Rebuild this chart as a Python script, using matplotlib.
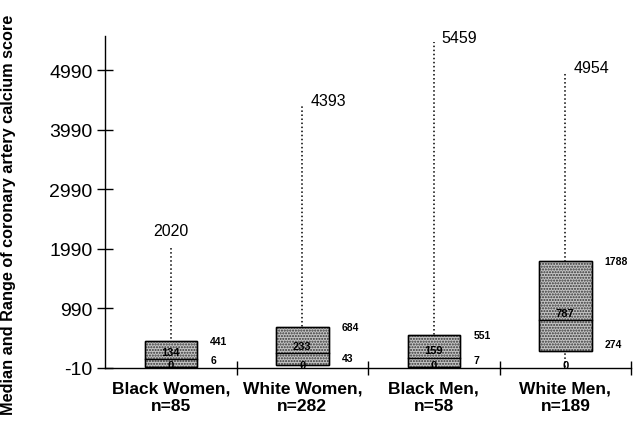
import matplotlib
matplotlib.use("Agg")
import matplotlib.pyplot as plt

plt.rcParams['font.family'] = ['Liberation Sans', 'DejaVu Sans']

groups = ['Black Women,\nn=85', 'White Women,\nn=282', 'Black Men,\nn=58', 'White Men,\nn=189']
mins = [0, 0, 0, 0]
q1 = [6, 43, 7, 274]
medians = [134, 233, 159, 787]
q3 = [441, 684, 551, 1788]
maxs = [2020, 4393, 5459, 4954]
yticks = [-10, 990, 1990, 2990, 3990, 4990]

fig = plt.figure(figsize=(6.33, 4.31), dpi=100)
ax = fig.add_axes([0.166, 0.144, 0.831, 0.77])

w = 0.4
for i in range(len(groups)):
    # whisker from min to max
    ax.plot([i, i], [mins[i], maxs[i]], color='k', linestyle=':', lw=1.1, zorder=1)
    # stippled box
    ax.bar(i, q3[i] - q1[i], bottom=q1[i], width=w, facecolor='#c4c4c4',
           edgecolor='#333333', hatch='......', lw=1.0, zorder=2)
    ax.bar(i, q3[i] - q1[i], bottom=q1[i], width=w, facecolor='none',
           edgecolor='k', lw=1.0, zorder=3)
    ax.plot([i - w / 2, i + w / 2], [medians[i], medians[i]], color='k', lw=1.0, zorder=3)
    ax.text(i, medians[i] + 40, str(medians[i]), ha='center', va='bottom',
            fontsize=8, fontweight='bold', zorder=4)
    ax.text(i + w / 2 + 0.1, q3[i], str(q3[i]), ha='left', va='center',
            fontsize=7.5, fontweight='bold')
    ax.text(i + w / 2 + 0.1, q1[i] + 110, str(q1[i]), ha='left', va='center',
            fontsize=7.5, fontweight='bold')
    ax.text(i, mins[i] + 40, str(mins[i]), ha='center', va='center',
            fontsize=8, fontweight='bold', zorder=4)
    if i == 0:
        ax.text(i, maxs[i] + 150, str(maxs[i]), ha='center', va='bottom', fontsize=11.5)
    else:
        ax.text(i + 0.06, maxs[i] + 80, str(maxs[i]), ha='left', va='center', fontsize=11.5)

ax.set_xlim(-0.5, 3.5)
ax.set_ylim(-10, 5560)
ax.set_yticks(yticks)
ax.set_yticklabels([str(t) for t in yticks], fontsize=14)
ax.set_xticks([0.5, 1.5, 2.5, 3.5])
ax.set_xticklabels([])
ax.set_xticks(range(len(groups)), minor=True)
ax.set_xticklabels(groups, minor=True, fontsize=12.5, fontweight='bold')
ax.tick_params(axis='x', which='minor', length=0, pad=9)
ax.tick_params(axis='x', which='major', direction='inout', length=10, width=1)
ax.tick_params(axis='y', direction='inout', length=12, width=1, pad=3)

for s in ['top', 'right']:
    ax.spines[s].set_visible(False)
ax.spines['left'].set_linewidth(1)
ax.spines['bottom'].set_linewidth(1)

ax.set_ylabel('Median and Range of coronary artery calcium score', fontsize=11.7,
              fontweight='bold')
ax.yaxis.set_label_coords(-0.17, 0.465)

fig.savefig('out.png', dpi=100)
